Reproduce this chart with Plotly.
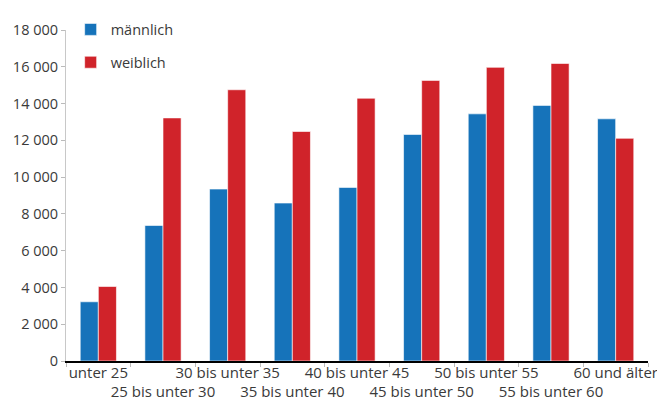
import plotly.graph_objects as go

# age groups and counts
categories = ['unter 25', '25 bis unter 30', '30 bis unter 35', '35 bis unter 40',
              '40 bis unter 45', '45 bis unter 50', '50 bis unter 55', '55 bis unter 60',
              '60 und älter']
maennlich = [3220, 7370, 9350, 8590, 9440, 12320, 13440, 13900, 13170]
weiblich = [4050, 13220, 14750, 12480, 14290, 15260, 15970, 16180, 12110]
y_ticks = [0, 2000, 4000, 6000, 8000, 10000, 12000, 14000, 16000, 18000]

# alternate label rows
tick_text = [c if i % 2 == 0 else '<br>' + c for i, c in enumerate(categories)]

fig = go.Figure()
fig.add_trace(go.Bar(
    x=categories, y=maennlich, name='männlich', legendgroup='m',
    marker=dict(color='#1673BA', line=dict(color='rgba(255,255,255,0.6)', width=1))
))
fig.add_trace(go.Bar(
    x=categories, y=weiblich, name='weiblich', legendgroup='w',
    marker=dict(color='#D0232A', line=dict(color='rgba(255,255,255,0.6)', width=1))
))

# page body adds 8px offset, margins compensate
fig.update_layout(
    width=665, height=401,
    margin=dict(l=58, r=25, t=5, b=48),
    plot_bgcolor='white', paper_bgcolor='white',
    font=dict(family='Open Sans', size=14, color='#3a3a3a'),
    separators=', ',
    barmode='group', bargap=0.44, bargroupgap=0,
    showlegend=True,
    legend=dict(x=0.008, y=1.05, xanchor='left', yanchor='top',
                bgcolor='rgba(0,0,0,0)', tracegroupgap=11,
                font=dict(size=14.5, color='#3a3a3a')),
    xaxis=dict(
        tickvals=categories, ticktext=tick_text, tickangle=0, automargin=False,
        tickson='boundaries', ticks='outside', ticklen=4, tickcolor='#bbbbbb',
        ticklabelstandoff=-3,
        showline=True, linecolor='black', linewidth=1.5,
        showgrid=False, tickfont=dict(size=15)
    ),
    yaxis=dict(
        range=[0, 18000], tickvals=y_ticks, tickformat=',d', automargin=False,
        ticks='outside', ticklen=4, tickcolor='#bbbbbb',
        showline=True, linecolor='#c8c8c8', linewidth=1,
        showgrid=False, zeroline=False, tickfont=dict(size=14.5)
    ),
)

fig.write_html('out.html')
